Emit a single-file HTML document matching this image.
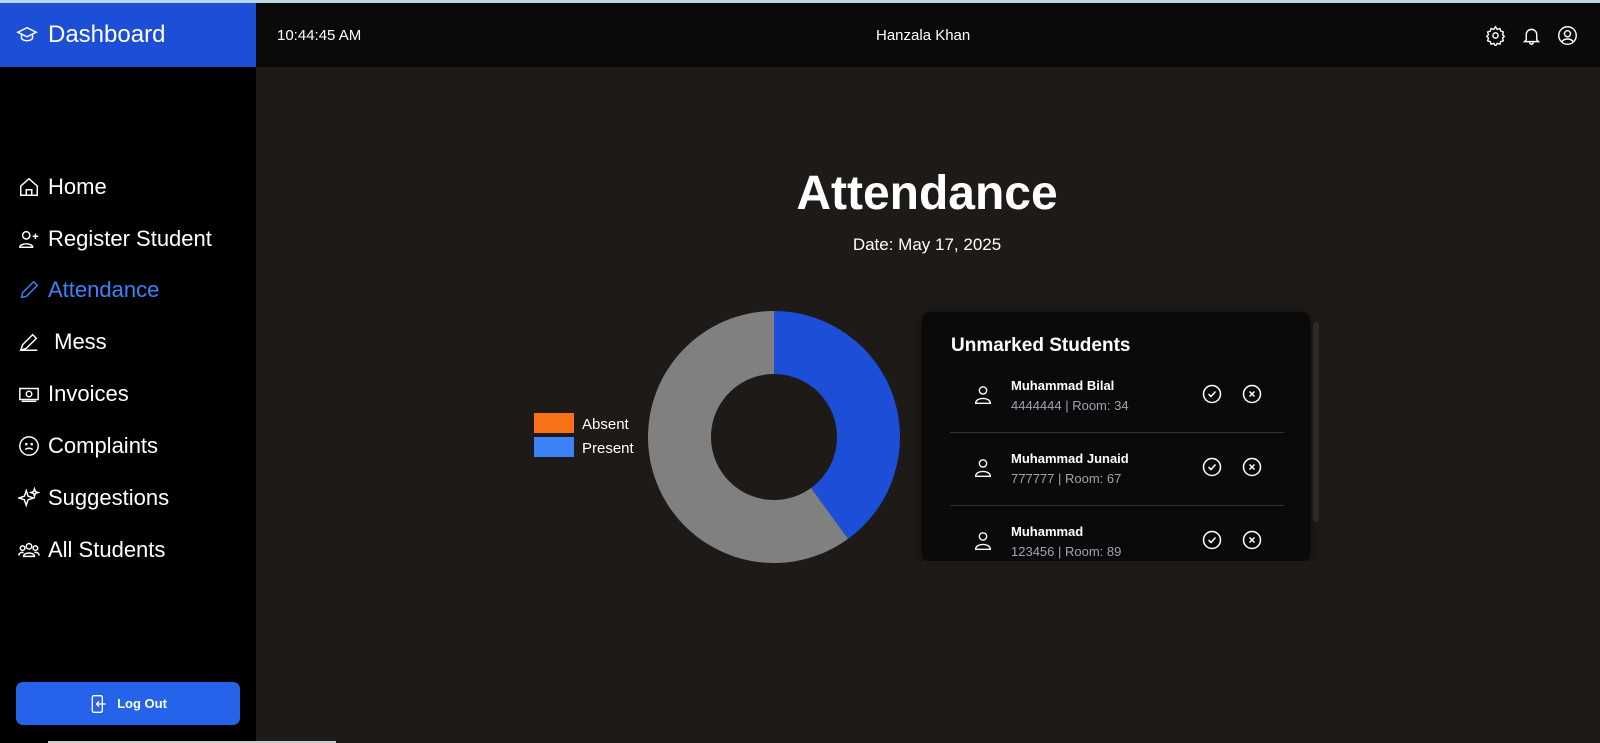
<!DOCTYPE html>
<html><head><meta charset="utf-8"><style>
*{box-sizing:border-box;margin:0;padding:0}
body{width:1600px;height:743px;overflow:hidden;background:#1e1a17;font-family:"Liberation Sans",sans-serif;color:#fff;position:relative}
.abs{position:absolute}
.nav{position:absolute;left:18px;font-size:22px;display:flex;align-items:center;gap:8px;height:30px}
.nav svg{width:22px;height:22px}
.row-name{position:absolute;left:1011px;font-size:13px;font-weight:bold}
.row-sub{position:absolute;left:1011px;font-size:13px;color:#9ca3af}
</style></head><body>
<div class="abs" style="left:0;top:0;width:1600px;height:3px;background:#b9dbe6"></div>
<div class="abs" style="left:0;top:3px;width:1600px;height:64px;background:#0b0a09"></div>
<div class="abs" style="left:0;top:67px;width:256px;height:676px;background:#000"></div>
<div class="abs" style="left:0;top:3px;width:256px;height:64px;background:#1d4ed8;display:flex;align-items:center;padding-left:16px;gap:10px;font-size:24px">
<svg width="22" height="22" viewBox="0 0 24 24" fill="none" stroke="#fff" stroke-width="1.6"><path d="M2 9l10-5 10 5-10 5z"/><path d="M6 11v5c3 3 9 3 12 0v-5"/></svg><span>Dashboard</span></div>
<div class="abs" style="left:277px;top:27px;font-size:15px">10:44:45 AM</div>
<div class="abs" style="left:876px;top:27px;font-size:15px">Hanzala Khan</div>
<svg class="abs" style="left:1485px;top:25px" width="21" height="21" viewBox="0 0 24 24" fill="none" stroke="#fff" stroke-width="1.6"><circle cx="12" cy="12" r="3"/><path d="M12 2l2 3 3-1 1 3 3 1-1 3 2 2-2 2 1 3-3 1-1 3-3-1-2 3-2-3-3 1-1-3-3-1 1-3-2-2 2-2-1-3 3-1 1-3 3 1z"/></svg>
<svg class="abs" style="left:1521px;top:25px" width="21" height="21" viewBox="0 0 24 24" fill="none" stroke="#fff" stroke-width="1.6"><path d="M6 17V11a6 6 0 0112 0v6l2 2H4z"/><path d="M10 20a2 2 0 004 0"/></svg>
<svg class="abs" style="left:1557px;top:25px" width="21" height="21" viewBox="0 0 24 24" fill="none" stroke="#fff" stroke-width="1.6"><circle cx="12" cy="12" r="10"/><circle cx="12" cy="10" r="3.5"/><path d="M5.5 19c3-4 10-4 13 0"/></svg>

<div class="nav" style="top:172px"><svg viewBox="0 0 24 24" fill="none" stroke="#fff" stroke-width="1.6"><path d="M3 11l9-8 9 8v10H3z"/><path d="M9 21v-6h6v6"/></svg><span>Home</span></div>
<div class="nav" style="top:224px"><svg viewBox="0 0 24 24" fill="none" stroke="#fff" stroke-width="1.6"><circle cx="9" cy="8" r="4"/><path d="M2 21c0-5 14-5 14 0z"/><path d="M19 6v6M16 9h6"/></svg><span>Register Student</span></div>
<div class="nav" style="top:275px;color:#3b82f6"><svg viewBox="0 0 24 24" fill="none" stroke="#3b82f6" stroke-width="1.6"><path d="M4 20l1-5L17 3l4 4L9 19z"/></svg><span>Attendance</span></div>
<div class="nav" style="top:327px"><svg viewBox="0 0 24 24" fill="none" stroke="#fff" stroke-width="1.6"><path d="M3 21l2-6L16 4l4 4L9 19zM3 21h18"/></svg><span>&nbsp;Mess</span></div>
<div class="nav" style="top:379px"><svg viewBox="0 0 24 24" fill="none" stroke="#fff" stroke-width="1.6"><rect x="2" y="6" width="20" height="12"/><circle cx="12" cy="12" r="3"/><path d="M4 20h16"/></svg><span>Invoices</span></div>
<div class="nav" style="top:431px"><svg viewBox="0 0 24 24" fill="none" stroke="#fff" stroke-width="1.6"><circle cx="12" cy="12" r="10"/><path d="M8 16c2-2 6-2 8 0"/><circle cx="9" cy="10" r=".6"/><circle cx="15" cy="10" r=".6"/></svg><span>Complaints</span></div>
<div class="nav" style="top:483px"><svg viewBox="0 0 24 24" fill="none" stroke="#fff" stroke-width="1.6"><path d="M9 4l2 6 6 2-6 2-2 6-2-6-6-2 6-2zM18 2l1 3 3 1-3 1-1 3-1-3-3-1 3-1z"/></svg><span>Suggestions</span></div>
<div class="nav" style="top:535px"><svg viewBox="0 0 24 24" fill="none" stroke="#fff" stroke-width="1.6"><circle cx="12" cy="8" r="3"/><circle cx="5" cy="10" r="2.5"/><circle cx="19" cy="10" r="2.5"/><path d="M6 19c0-5 12-5 12 0zM1 18c0-3 3-4 5-3M23 18c0-3-3-4-5-3"/></svg><span>All Students</span></div>

<div class="abs" style="left:16px;top:682px;width:224px;height:43px;background:#2563eb;border-radius:7px;display:flex;align-items:center;justify-content:center;gap:8px;font-size:13px;font-weight:bold">
<svg width="20" height="20" viewBox="0 0 24 24" fill="none" stroke="#fff" stroke-width="1.6"><rect x="4" y="2" width="12" height="20" rx="2"/><path d="M20 12H9M12 9l-3 3 3 3"/></svg><span>Log Out</span></div>
<div class="abs" style="left:48px;top:741px;width:288px;height:2px;background:#ccc"></div>

<div class="abs" style="left:556px;width:742px;top:166px;text-align:center;font-size:48px;font-weight:bold">Attendance</div>
<div class="abs" style="left:556px;width:742px;top:235px;text-align:center;font-size:17px">Date: May 17, 2025</div>

<svg class="abs" id="chart" style="left:520px;top:300px" width="400" height="280"></svg>

<div class="abs" style="left:922px;top:312px;width:388px;height:249px;background:#0a0a0a;border-radius:7px;box-shadow:0 4px 14px rgba(0,0,0,.5);overflow:hidden">
<div class="abs" style="left:29px;top:23px;font-size:19px;font-weight:bold">Unmarked Students</div>
</div>
<div class="abs" style="left:1313px;top:322px;width:6px;height:200px;background:#2a2a2a;border-radius:3px"></div>
<div id="rows"></div>

<script>
const sliceLabels = ["Absent", "Present", "Unmarked"];
const sliceValues = [0, 2, 3];
const sliceColors = ["#f97316", "#1d4ed8", "#808080"];
const legendLabels = ["Absent", "Present"];
const legendColors = ["#f97316", "#3b82f6"];
const names = ["Muhammad Bilal", "Muhammad Junaid", "Muhammad"];
const ids = ["4444444", "777777", "123456"];
const rooms = ["34", "67", "89"];

const NS = "http://www.w3.org/2000/svg";
const svg = document.getElementById('chart');
const cx = 254, cy = 137, R = 126, r = 63;
const total = sliceValues.reduce((a, b) => a + b, 0);
function angleOf(v) { return v / total * 2 * Math.PI; }
function pt(a, rad) { return [cx + rad * Math.sin(a), cy - rad * Math.cos(a)]; }
let start = 0;
sliceValues.forEach((v, i) => {
  if (v <= 0) return;
  const end = start + angleOf(v);
  const large = end - start > Math.PI ? 1 : 0;
  const [x1, y1] = pt(start, R), [x2, y2] = pt(end, R), [x3, y3] = pt(end, r), [x4, y4] = pt(start, r);
  const p = document.createElementNS(NS, 'path');
  p.setAttribute('d', `M${x1} ${y1}A${R} ${R} 0 ${large} 1 ${x2} ${y2}L${x3} ${y3}A${r} ${r} 0 ${large} 0 ${x4} ${y4}Z`);
  p.setAttribute('fill', sliceColors[i]);
  
  
  svg.appendChild(p);
  start = end;
});
legendLabels.forEach((l, i) => {
  const rc = document.createElementNS(NS, 'rect');
  rc.setAttribute('x', 14); rc.setAttribute('y', 113 + i * 24);
  rc.setAttribute('width', 40); rc.setAttribute('height', 20);
  rc.setAttribute('fill', legendColors[i]);
  
  
  svg.appendChild(rc);
  const t = document.createElementNS(NS, 'text');
  t.setAttribute('x', 62); t.setAttribute('y', 129 + i * 24);
  t.setAttribute('fill', '#fff'); t.setAttribute('font-size', '15');
  t.setAttribute('font-family', 'Liberation Sans, sans-serif');
  t.textContent = l;
  
  
  svg.appendChild(t);
});

const rowsEl = document.getElementById('rows');
names.forEach((n, i) => {
  const y = 387 + i * 73;
  const g = document.createElement('div');
  
  
  g.innerHTML =
    `<svg class="abs" style="left:972px;top:${y - 4}px" width="22" height="24" viewBox="0 0 24 24" fill="none" stroke="#fff" stroke-width="1.5"><circle cx="12" cy="7" r="4"/><path d="M4 21c0-7 16-7 16 0z"/></svg>` +
    `<div class="row-name" style="top:${y - 9}px">${n}</div>` +
    `<div class="row-sub" style="top:${y + 11}px">${ids[i]} | Room: ${rooms[i]}</div>` +
    `<svg class="abs" style="left:1202px;top:${y - 3}px" width="20" height="20" viewBox="0 0 20 20" fill="none" stroke="#fff" stroke-width="1.5"><circle cx="10" cy="10" r="8.5"/><path d="M6.5 10l2.5 2.5 4.5-5"/></svg>` +
    `<svg class="abs" style="left:1242px;top:${y - 3}px" width="20" height="20" viewBox="0 0 20 20" fill="none" stroke="#fff" stroke-width="1.5"><circle cx="10" cy="10" r="8.5"/><path d="M7.5 7.5l5 5M12.5 7.5l-5 5"/></svg>` +
    (i < names.length - 1 ? `<div class="abs" style="left:950px;top:${y + 45}px;width:334px;height:1px;background:#2e3238"></div>` : '');
  rowsEl.appendChild(g);
});
rowsEl.querySelectorAll('svg').forEach((s, k) => {
  
  
});
// clip bottom row to card
const clip = document.createElement('div');


clip.className = 'abs';
clip.style.cssText = 'left:922px;top:561px;width:400px;height:40px;background:#1e1a17';
document.body.appendChild(clip);
</script>
</body></html>
